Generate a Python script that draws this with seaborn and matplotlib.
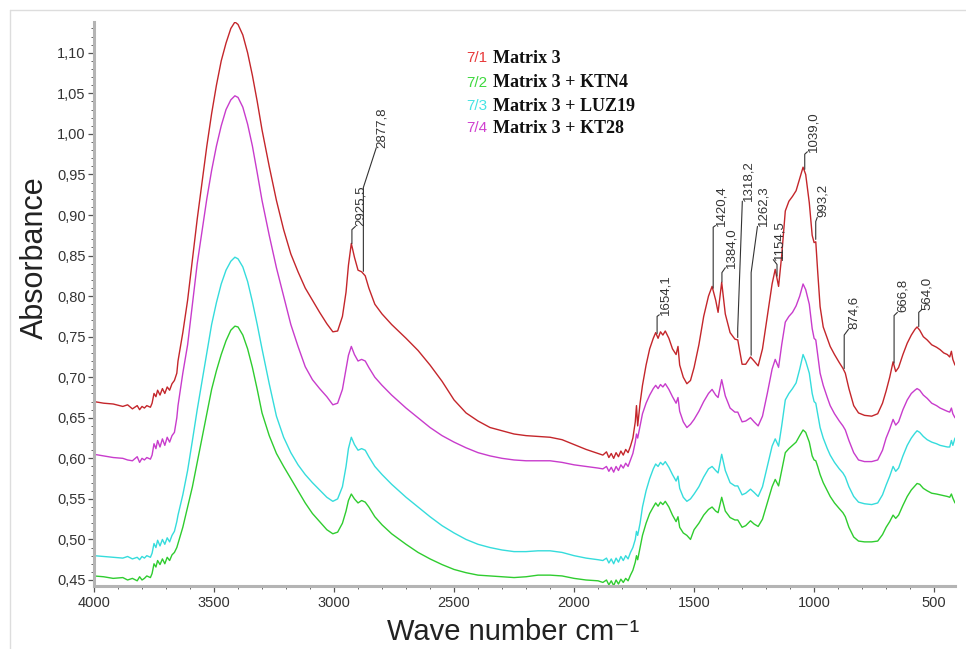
import numpy as np
import pandas as pd
import matplotlib
matplotlib.use("Agg")
import matplotlib.pyplot as plt
import seaborn as sns
from matplotlib.ticker import MultipleLocator, FuncFormatter
from matplotlib import font_manager

sns.set_theme(style="white")

# ---------------- data ----------------
wavenumber = [
    4000, 3960, 3920, 3880, 3860, 3840, 3820, 3810, 3800, 3790,
    3780, 3765, 3758, 3750, 3742, 3735, 3725, 3715, 3705, 3695,
    3685, 3675, 3665, 3655, 3650, 3630, 3610, 3590, 3570, 3550,
    3530, 3510, 3490, 3470, 3450, 3430, 3413, 3400, 3380, 3360,
    3340, 3320, 3300, 3270, 3240, 3210, 3180, 3150, 3120, 3090,
    3060, 3030, 3005, 2985, 2965, 2950, 2940, 2928, 2915, 2900,
    2885, 2870, 2855, 2830, 2800, 2760, 2700, 2650, 2600, 2550,
    2500, 2450, 2400, 2350, 2300, 2250, 2200, 2150, 2100, 2050,
    2000, 1950, 1900, 1880, 1865, 1855, 1845, 1835, 1825, 1815,
    1805, 1795, 1785, 1775, 1765, 1755, 1745, 1740, 1735, 1725,
    1715, 1700, 1685, 1670, 1660, 1650, 1640, 1630, 1620, 1605,
    1590, 1575, 1567, 1560, 1545, 1530, 1515, 1500, 1480, 1460,
    1440, 1425, 1410, 1400, 1385, 1370, 1350, 1330, 1318, 1300,
    1285, 1265, 1250, 1233, 1215, 1195, 1175, 1162, 1148, 1135,
    1120, 1105, 1090, 1075, 1060, 1046, 1035, 1020, 1008, 1000,
    993, 985, 975, 962, 945, 933, 915, 895, 880, 870,
    855, 835, 815, 790, 760, 735, 715, 700, 685, 671,
    660, 648, 630, 612, 595, 580, 571, 560, 545, 529,
    510, 490, 475, 460, 445, 435, 428, 422, 413,
]

matrix3 = [
    .670, .668, .667, .664, .666, .661, .665, .660, .664, .662,
    .665, .663, .668, .680, .676, .684, .678, .686, .680, .688,
    .684, .692, .696, .705, .720, .755, .795, .845, .895, .940,
    .985, 1.025, 1.060, 1.090, 1.112, 1.130, 1.138, 1.135, 1.122, 1.100,
    1.072, 1.040, 1.005, .960, .918, .882, .852, .830, .810, .795,
    .780, .766, .756, .757, .775, .805, .838, .865, .848, .832,
    .830, .825, .810, .790, .778, .765, .748, .733, .715, .695,
    .672, .656, .646, .638, .634, .630, .628, .627, .626, .623,
    .617, .611, .606, .604, .608, .601, .606, .600, .607, .602,
    .609, .604, .611, .607, .615, .625, .645, .665, .640, .668,
    .690, .715, .735, .748, .755, .748, .756, .752, .757, .748,
    .735, .728, .738, .715, .700, .692, .696, .712, .740, .775,
    .800, .812, .795, .780, .817, .778, .755, .747, .746, .716,
    .716, .725, .720, .714, .735, .775, .815, .833, .812, .850,
    .905, .917, .923, .930, .945, .959, .950, .915, .875, .866,
    .867, .830, .787, .762, .748, .738, .728, .718, .711, .705,
    .686, .665, .656, .653, .652, .655, .668, .683, .700, .719,
    .707, .712, .728, .742, .752, .759, .762, .758, .750, .746,
    .740, .737, .734, .730, .728, .725, .732, .722, .715,
]

matrix3_ktn4 = [
    .455, .454, .452, .453, .450, .452, .449, .454, .450, .452,
    .455, .453, .458, .470, .466, .474, .469, .476, .470, .478,
    .474, .481, .484, .490, .495, .515, .540, .565, .595, .625,
    .655, .685, .708, .728, .745, .758, .763, .762, .752, .735,
    .712, .685, .656, .628, .606, .590, .575, .560, .545, .532,
    .522, .512, .507, .509, .520, .535, .548, .556, .550, .545,
    .548, .546, .540, .528, .518, .507, .494, .484, .476, .469,
    .463, .459, .456, .455, .454, .453, .454, .456, .456, .455,
    .452, .450, .449, .447, .450, .444, .449, .443, .450, .445,
    .451, .447, .452, .449, .456, .462, .472, .480, .475, .490,
    .505, .520, .532, .540, .545, .541, .546, .543, .547, .540,
    .530, .522, .528, .515, .508, .505, .500, .512, .520, .530,
    .537, .540, .535, .533, .552, .535, .527, .524, .524, .515,
    .517, .523, .519, .516, .525, .545, .565, .574, .566, .585,
    .607, .612, .616, .620, .628, .635, .632, .620, .603, .598,
    .597, .590, .580, .570, .560, .553, .545, .538, .533, .528,
    .515, .503, .498, .497, .497, .498, .506, .515, .522, .530,
    .526, .530, .542, .553, .561, .566, .569, .568, .563, .560,
    .557, .556, .555, .554, .553, .552, .556, .551, .545,
]

matrix3_luz19 = [
    .480, .479, .478, .477, .479, .476, .478, .475, .479, .477,
    .480, .478, .483, .495, .490, .499, .492, .500, .494, .502,
    .497, .505, .510, .522, .530, .555, .585, .622, .660, .695,
    .730, .765, .792, .815, .832, .843, .848, .846, .836, .818,
    .793, .765, .735, .692, .652, .626, .607, .592, .580, .570,
    .561, .552, .547, .550, .565, .590, .612, .626, .617, .610,
    .612, .610, .602, .590, .580, .568, .552, .540, .528, .517,
    .508, .500, .494, .490, .487, .485, .485, .486, .486, .484,
    .480, .477, .475, .474, .477, .471, .476, .470, .477, .472,
    .479, .474, .480, .476, .484, .490, .500, .510, .505, .520,
    .540, .560, .575, .587, .593, .590, .595, .592, .596, .589,
    .580, .572, .578, .563, .552, .547, .550, .556, .565, .577,
    .587, .590, .585, .582, .605, .585, .570, .566, .566, .555,
    .557, .562, .558, .553, .565, .590, .615, .624, .615, .640,
    .672, .680, .686, .693, .710, .728, .720, .705, .680, .670,
    .668, .655, .638, .625, .612, .604, .595, .587, .582, .577,
    .565, .553, .546, .544, .543, .545, .555, .567, .578, .590,
    .584, .588, .603, .616, .625, .631, .634, .632, .627, .623,
    .620, .618, .616, .615, .614, .614, .622, .616, .625,
]

matrix3_kt28 = [
    .605, .603, .601, .600, .598, .597, .602, .595, .600, .598,
    .601, .599, .604, .618, .612, .622, .614, .624, .616, .626,
    .620, .628, .632, .650, .665, .705, .740, .790, .840, .880,
    .920, .955, .985, 1.010, 1.030, 1.042, 1.047, 1.045, 1.033, 1.012,
    .985, .952, .918, .875, .835, .800, .765, .738, .713, .697,
    .686, .676, .666, .668, .685, .710, .727, .738, .728, .720,
    .722, .720, .712, .700, .690, .678, .662, .650, .638, .628,
    .620, .613, .607, .603, .600, .598, .597, .597, .597, .595,
    .592, .590, .588, .587, .590, .584, .589, .583, .590, .585,
    .592, .588, .594, .590, .598, .606, .620, .630, .625, .640,
    .655, .668, .678, .686, .690, .686, .691, .688, .692, .685,
    .676, .668, .675, .658, .645, .638, .642, .648, .658, .670,
    .680, .685, .678, .675, .697, .677, .662, .657, .657, .645,
    .646, .650, .645, .640, .652, .680, .710, .722, .712, .740,
    .768, .775, .780, .788, .800, .815, .808, .790, .760, .748,
    .746, .728, .705, .690, .675, .665, .655, .646, .640, .635,
    .622, .607, .598, .596, .596, .598, .610, .625, .636, .648,
    .641, .645, .660, .672, .680, .684, .686, .684, .678, .674,
    .668, .665, .662, .660, .658, .657, .662, .655, .650,
]

series_codes = ["7/1", "7/2", "7/3", "7/4"]
series_names = ["Matrix 3", "Matrix 3 + KTN4", "Matrix 3 + LUZ19", "Matrix 3 + KT28"]
line_colors = ["#c4262b", "#2fcc2f", "#35dcdc", "#c83ccc"]
code_colors = ["#e8393a", "#3fd83f", "#45e4e4", "#d040d0"]

# peak annotations on the Matrix 3 curve
peak_labels = ["2925,5", "2877,8", "1654,1", "1420,4", "1384,0", "1318,2", "1262,3",
               "1154,5", "1039,0", "993,2", "874,6", "666,8", "564,0"]
peak_text_wn = [2887, 2800, 1621, 1387, 1346, 1275, 1212, 1146, 1004, 963, 833, 629, 529]
peak_text_y = [0.886, 0.983, 0.777, 0.887, 0.835, 0.917, 0.886, 0.845, 0.978, 0.897, 0.759, 0.780, 0.783]
peak_knee_y = [0.882, 0.934, 0.775, 0.885, 0.829, 0.760, 0.829, 0.839, 0.975, 0.892, 0.752, 0.776, 0.780]

assert len(wavenumber) == len(matrix3) == len(matrix3_ktn4) == len(matrix3_luz19) == len(matrix3_kt28)

# ---------------- fonts ----------------
available = {f.name for f in font_manager.fontManager.ttflist}
sans = [f for f in ["Liberation Sans", "DejaVu Sans"] if f in available] or ["DejaVu Sans"]
serif = [f for f in ["Liberation Serif", "DejaVu Serif"] if f in available] or ["DejaVu Serif"]
plt.rcParams["font.family"] = sans

# ---------------- figure ----------------
fig = plt.figure(figsize=(9.66, 6.49), dpi=100)
ax = fig.add_axes([94 / 966, 63 / 649, 861 / 966, 564 / 649])

all_series = [matrix3, matrix3_ktn4, matrix3_luz19, matrix3_kt28]
df = pd.DataFrame({
    "wn": wavenumber * 4,
    "absorbance": sum(all_series, []),
    "series": sum([[n] * len(wavenumber) for n in series_names], []),
})
sns.lineplot(data=df, x="wn", y="absorbance", hue="series", hue_order=series_names,
             palette=line_colors, linewidth=1.0, estimator=None, legend=False, ax=ax)

ax.set_xlim(4000, 413)
ax.set_ylim(0.4426, 1.138)

ax.xaxis.set_major_locator(MultipleLocator(500))
ax.xaxis.set_minor_locator(MultipleLocator(100))
ax.yaxis.set_major_locator(MultipleLocator(0.05))
ax.yaxis.set_minor_locator(MultipleLocator(0.01))
ax.xaxis.set_major_formatter(FuncFormatter(lambda v, p: f"{int(round(v))}"))
ax.yaxis.set_major_formatter(FuncFormatter(lambda v, p: f"{v:.2f}".replace(".", ",")))

for s in ["top", "right"]:
    ax.spines[s].set_visible(False)
for s in ["left", "bottom"]:
    ax.spines[s].set_color("#b4b4b4")
    ax.spines[s].set_linewidth(2.2)

ax.tick_params(axis="both", which="major", direction="out", length=4, width=0.9,
               color="#555555", labelcolor="#333333", left=True, bottom=True)
ax.tick_params(axis="both", which="minor", direction="out", length=2, width=0.7,
               color="#666666", left=True, bottom=True)
ax.tick_params(axis="x", which="major", labelsize=10.5, pad=3)
ax.tick_params(axis="y", which="major", labelsize=10.5, pad=2)

ax.set_xlabel("Wave number cm\u207b\u00b9", fontsize=21, color="#222222")
ax.set_ylabel("Absorbance", fontsize=22, color="#222222")
ax.xaxis.label.set_va("center")
ax.yaxis.label.set_va("center")
ax.xaxis.set_label_coords(0.487, -0.082)
ax.yaxis.set_label_coords(-0.0685, 0.582)
ax.grid(False)

# peak annotations
for lab, twn, ty, ky in zip(peak_labels, peak_text_wn, peak_text_y, peak_knee_y):
    pwn = float(lab.replace(",", "."))
    base = float(np.interp(pwn, wavenumber[::-1], matrix3[::-1])) + 0.003
    end_wn = twn + 24
    ax.plot([pwn, pwn, end_wn], [base, max(ky, base), ty], color="#333333", lw=0.8)
    ax.text(twn, ty, lab, rotation=90, ha="center", va="bottom", fontsize=9.5,
            color="#333333", family=sans)

# legend as text
leg_y = [0.936, 0.892, 0.851, 0.812]
for code, name, col, y in zip(series_codes, series_names, code_colors, leg_y):
    ax.text(0.432, y, code, transform=ax.transAxes, color=col, fontsize=11,
            va="center", ha="left", family=sans)
    ax.text(0.463, y, name, transform=ax.transAxes, color="#111111", fontsize=13,
            va="center", ha="left", family=serif, fontweight="bold")

# thin frame around the figure
fig.add_artist(plt.Line2D([10 / 966, 1], [1 - 10 / 649, 1 - 10 / 649],
                          transform=fig.transFigure, color="#dddddd", lw=1))
fig.add_artist(plt.Line2D([10 / 966, 10 / 966], [0, 1 - 10 / 649],
                          transform=fig.transFigure, color="#dddddd", lw=1))

fig.savefig("out.png", dpi=100, facecolor="white")
